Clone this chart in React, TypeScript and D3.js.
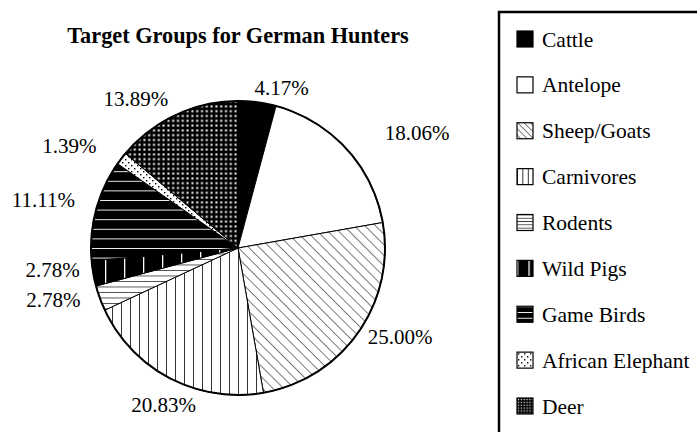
import React from 'react';
import * as d3 from 'd3';

const categories = ['Cattle', 'Antelope', 'Sheep/Goats', 'Carnivores', 'Rodents', 'Wild Pigs', 'Game Birds', 'African Elephant', 'Deer'];
const shares = [4.17, 18.06, 25.0, 20.83, 2.78, 2.78, 11.11, 1.39, 13.89];
const shareLabels = ['4.17%', '18.06%', '25.00%', '20.83%', '2.78%', '2.78%', '11.11%', '1.39%', '13.89%'];
const fills = ['solid', 'blank', 'diag', 'vline', 'hline', 'wvline', 'whline', 'dots', 'grid'];

// label nudges (layout only), px
const labelNudge: [number, number][] = [[-6, 10], [20, 1], [-11, -10], [5, 4], [4, -7], [11, -8], [3, -4], [-5, 2], [3, 7]];

const W = 697;
const H = 432;
const cx = 238;
const cy = 248;
const r = 147;
const font = 'Liberation Serif';

const Patterns = ({ suffix, s }: { suffix: string; s: number }) => (
  <>
    <pattern id={`diag${suffix}`} patternUnits="userSpaceOnUse" width={7.5 * s} height={7.5 * s} patternTransform="rotate(-45)">
      <rect width={7.5 * s} height={7.5 * s} fill="#fff" />
      <line x1={0} y1={0} x2={0} y2={7.5 * s} stroke="#111" strokeWidth={1.1} />
    </pattern>
    <pattern id={`vline${suffix}`} patternUnits="userSpaceOnUse" width={9 * s} height={10}>
      <rect width={9 * s} height={10} fill="#fff" />
      <line x1={0} y1={0} x2={0} y2={10} stroke="#000" strokeWidth={1.6} />
    </pattern>
    <pattern id={`hline${suffix}`} patternUnits="userSpaceOnUse" width={10} height={5.5 * s}>
      <rect width={10} height={5.5 * s} fill="#fff" />
      <line x1={0} y1={0} x2={10} y2={0} stroke="#000" strokeWidth={1.3} />
    </pattern>
    <pattern id={`wvline${suffix}`} patternUnits="userSpaceOnUse" width={19 * s} height={10}>
      <rect width={19 * s} height={10} fill="#000" />
      <line x1={0} y1={0} x2={0} y2={10} stroke="#fff" strokeWidth={2.6} />
    </pattern>
    <pattern id={`whline${suffix}`} patternUnits="userSpaceOnUse" width={10} height={9.6 * s}>
      <rect width={10} height={9.6 * s} fill="#000" />
      <line x1={0} y1={0} x2={10} y2={0} stroke="#fff" strokeWidth={1.8} />
    </pattern>
    <pattern id={`dots${suffix}`} patternUnits="userSpaceOnUse" width={6} height={6}>
      <rect width={6} height={6} fill="#fff" />
      <rect x={1} y={1} width={1.4} height={1.4} fill="#000" />
      <rect x={4} y={4} width={1.4} height={1.4} fill="#000" />
    </pattern>
    <pattern id={`grid${suffix}`} patternUnits="userSpaceOnUse" width={4.8 * s} height={4.8 * s}>
      <rect width={4.8 * s} height={4.8 * s} fill="#000" />
      <rect x={1.4 * s} y={1.4 * s} width={2 * s} height={2 * s} fill="#fff" />
    </pattern>
  </>
);

const fillFor = (key: string, suffix: string) =>
  key === 'solid' ? '#000' : key === 'blank' ? '#fff' : `url(#${key}${suffix})`;

export default function App() {
  const arcs = d3.pie<number>().sort(null).value((d) => d)(shares);
  const arc = d3.arc<d3.PieArcDatum<number>>().innerRadius(0).outerRadius(r);
  const labelArc = d3.arc<d3.PieArcDatum<number>>().innerRadius(r + 25).outerRadius(r + 25);

  const legendY = d3.scalePoint<string>().domain(categories).range([39, 406]);
  const txt = { fontFamily: font };

  return (
    <svg width={W} height={H} style={{ position: 'absolute', left: 0, top: 0, background: '#fff' }}>
      <defs>
        <Patterns suffix="" s={1} />
        <Patterns suffix="L" s={0.6} />
      </defs>
      <text x={cx} y={43} textAnchor="middle" fontSize={22.3} fontWeight="bold" style={txt}>
        Target Groups for German Hunters
      </text>
      <g transform={`translate(${cx},${cy})`}>
        {arcs.map((a, i) => (
          <path key={i} d={arc(a) || ''} fill={fillFor(fills[i], '')} stroke="#000" strokeWidth={1} />
        ))}
        <circle r={r} fill="none" stroke="#000" strokeWidth={2} />
        {arcs.map((a, i) => {
          const [lx, ly] = labelArc.centroid(a);
          const mid = (a.startAngle + a.endAngle) / 2;
          const sin = Math.sin(mid);
          const cos = Math.cos(mid);
          const anchor = Math.abs(sin) < 0.5 && cos < 0 ? 'middle' : sin >= 0 ? 'start' : 'end';
          return (
            <text key={i} x={lx + labelNudge[i][0]} y={ly + labelNudge[i][1]} dy="0.35em" textAnchor={anchor} fontSize={21} style={txt}>
              {shareLabels[i]}
            </text>
          );
        })}
      </g>
      <rect x={499} y={12} width={240} height={460} fill="none" stroke="#000" strokeWidth={2.5} />
      {categories.map((c, i) => {
        const y = legendY(c) as number;
        return (
          <g key={c} transform={`translate(517,${y - 8})`}>
            <rect width={16} height={16} fill={fillFor(fills[i], 'L')} stroke="#000" strokeWidth={1.2} />
            <text x={25} y={8} dy="0.35em" fontSize={21.5} style={txt}>
              {c}
            </text>
          </g>
        );
      })}
    </svg>
  );
}
